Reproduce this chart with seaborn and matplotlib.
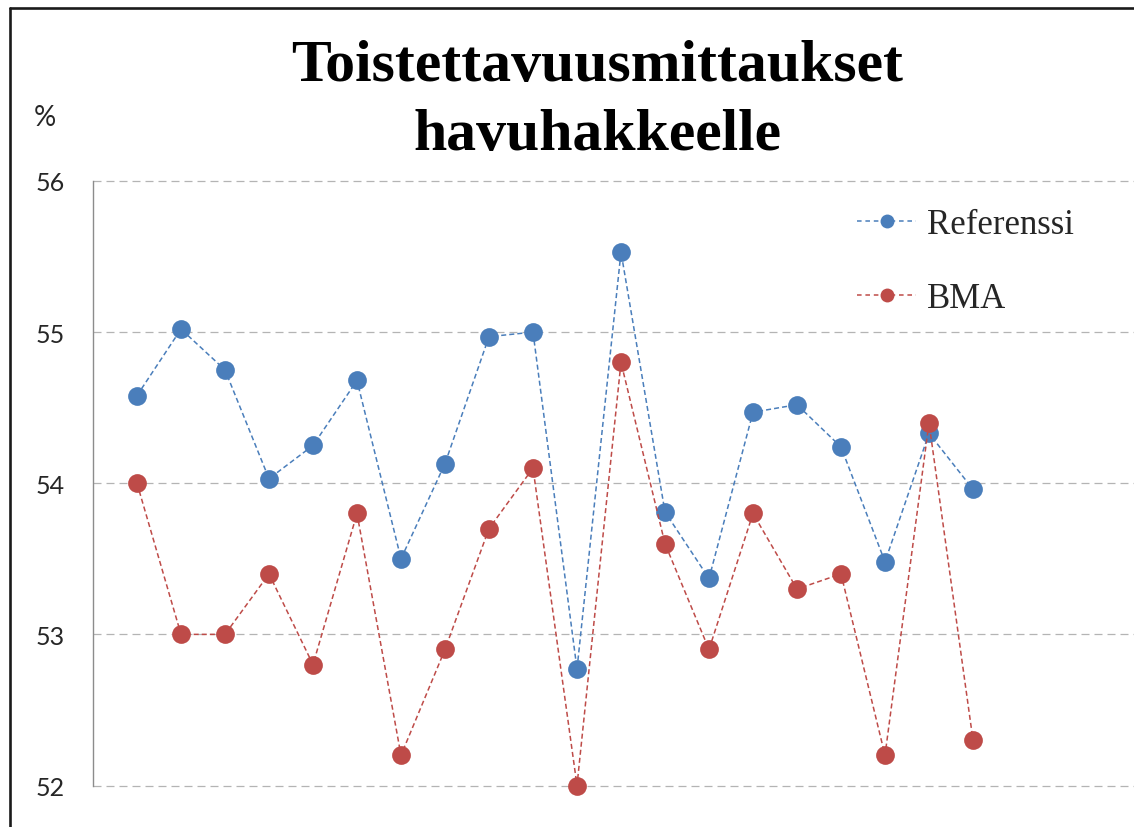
import matplotlib
matplotlib.use("Agg")
import matplotlib.pyplot as plt
import seaborn as sns
import pandas as pd
from matplotlib.lines import Line2D
from matplotlib.font_manager import FontProperties

# Measurement number and the two measured series (%)
mittaus = list(range(1, 21))
referenssi = [54.58, 55.02, 54.75, 54.03, 54.25, 54.68, 53.50, 54.13, 54.97, 55.00,
              52.77, 55.53, 53.81, 53.37, 54.47, 54.52, 54.24, 53.48, 54.33, 53.96]
bma = [54.0, 53.0, 53.0, 53.4, 52.8, 53.8, 52.2, 52.9, 53.7, 54.1,
       52.0, 54.8, 53.6, 52.9, 53.8, 53.3, 53.4, 52.2, 54.4, 52.3]
sarjat = ["Referenssi", "BMA"]
y_ticks = [52, 53, 54, 55, 56]
otsikko = ["Toistettavuusmittaukset", "havuhakkeelle"]
yksikko = "%"

df = pd.DataFrame({
    "Mittaus": mittaus * 2,
    "Arvo": referenssi + bma,
    "Sarja": [sarjat[0]] * len(mittaus) + [sarjat[1]] * len(mittaus),
})

sns.set_style("white")
plt.rcParams["font.family"] = ["Lato", "DejaVu Sans"]

W, H = 1134, 828
fig = plt.figure(figsize=(W / 100, H / 100), dpi=100)
ax_left, y_bot, y_top = 93, 786.5, 182
ax = fig.add_axes([ax_left / W, (H - y_bot) / H, 1 - ax_left / W, (y_bot - y_top) / H])

palette = {"Referenssi": "#4A7EBB", "BMA": "#BE4B48"}
sns.lineplot(
    data=df, x="Mittaus", y="Arvo", hue="Sarja", style="Sarja",
    palette=palette,
    markers={"Referenssi": "o", "BMA": "o"},
    dashes={"Referenssi": (3.3, 2), "BMA": (3.3, 2)},
    markersize=13.5, markeredgewidth=0, linewidth=1.1,
    legend=False, ax=ax,
)
for ln in ax.lines:
    ln.set_clip_on(False)

ax.set_xlim(0, (W - ax_left) / 44)
ax.set_ylim(52, 56)
ax.set_yticks(y_ticks)
ax.set_xticks([])
ax.set_xlabel("")
ax.set_ylabel("")
for s in ["top", "right", "bottom"]:
    ax.spines[s].set_visible(False)
ax.spines["left"].set_color("#8c8c8c")
ax.spines["left"].set_linewidth(1.0)
ax.tick_params(axis="y", length=0, pad=20.5, labelsize=18, labelcolor="#262626")
ax.set_axisbelow(True)
ax.grid(axis="y", color="#b4b4b4", linestyle=(0, (6.4, 4)), linewidth=0.9)
for gl in ax.get_ygridlines():
    gl.set_clip_on(False)

# Legend without frame, top right inside the plot
handles = [
    Line2D([], [], color=palette[n], marker="o", markersize=10, markeredgewidth=0,
           linestyle=(0, (3, 2.5)), linewidth=1.1)
    for n in sarjat
]
ax.legend(handles, sarjat, frameon=False,
          prop=FontProperties(family="Liberation Serif", size=25),
          handlelength=1.7, handletextpad=0.32, labelspacing=1.19,
          loc="upper left", bbox_to_anchor=(857 / W, 1 - 209 / H),
          bbox_transform=fig.transFigure, borderpad=0, borderaxespad=0)

# Two-line bold serif title
fig.text(597 / W, 1 - 80.7 / H, otsikko[0], ha="center", va="baseline",
         family=["Liberation Serif"], weight="bold", size=43, color="black")
fig.text(597 / W, 1 - 150 / H, otsikko[1], ha="center", va="baseline",
         family=["Liberation Serif"], weight="bold", size=43, color="black")

# Unit label above the y tick labels
fig.text(34 / W, 1 - 118.5 / H, yksikko, ha="left", va="center", size=20, color="#262626")

# Outer chart frame (top and left edges)
fig.add_artist(Line2D([9.5 / W, 1], [1 - 9 / H, 1 - 9 / H], transform=fig.transFigure,
                      color="#1a1a1a", linewidth=1.9))
fig.add_artist(Line2D([9.5 / W, 9.5 / W], [0, 1 - 9 / H], transform=fig.transFigure,
                      color="#1a1a1a", linewidth=1.9))

fig.savefig("out.png", dpi=100)
